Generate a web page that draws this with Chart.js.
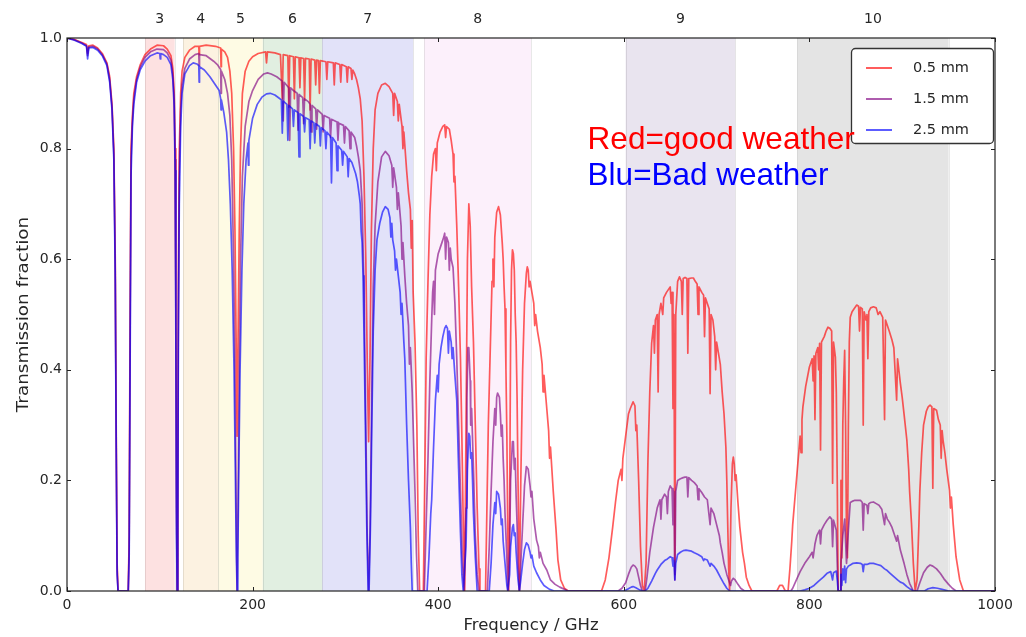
<!DOCTYPE html>
<html>
<head>
<meta charset="utf-8">
<script src="https://cdn.jsdelivr.net/npm/chart.js@4.4.1/dist/chart.umd.min.js"></script>
<style>
  html, body { margin: 0; padding: 0; background: #fff; }
  canvas { display: block; }
</style>
</head>
<body>
<canvas id="atmChart" width="1026" height="637"></canvas>
<script>
// ALMA receiver bands (GHz)
var bandNames = ['3', '4', '5', '6', '7', '8', '9', '10'];
var bandLow = [84, 125, 163, 211, 275, 385, 602, 787];
var bandHigh = [116, 163, 211, 275, 373, 500, 720, 950];
var bandFill = ['#fde1e1', '#fcf2e1', '#fefbe4', '#e1efe1', '#e2e2f9', '#fcf0fb', '#e9e4ef', '#e4e4e4'];

var seriesNames = ['0.5 mm', '1.5 mm', '2.5 mm'];

// transmission: [frequency GHz, transmission]
var trans05 = [[0,1.0],[8,0.997],[16,0.992],[21,0.988],[22.2,0.972],[23.5,0.986],[28,0.987],[33,0.982],[38,0.972],[43,0.955],[46,0.93],[48.5,0.88],[50.5,0.8],[52,0.6],[53,0.3],[54,0.05],[55,0],[66,0],[67,0.1],[68,0.5],[69,0.8],[70.5,0.86],[72,0.9],[75,0.93],[79,0.952],[84,0.97],[90,0.98],[97,0.987],[104,0.986],[108,0.98],[112,0.968],[114,0.945],[115.5,0.9],[116.5,0.8],[117.3,0.55],[118,0.2],[118.7,0],[119.4,0.2],[120,0.55],[121,0.8],[122.5,0.9],[124,0.94],[127,0.965],[132,0.978],[138,0.985],[142,0.985],[142.4,0.97],[142.8,0.985],[150,0.987],[160,0.985],[165.6,0.982],[166,0.948],[166.4,0.98],[170,0.975],[173,0.965],[175.5,0.94],[177.5,0.9],[179.5,0.8],[181,0.65],[182.3,0.45],[183.3,0.28],[184.3,0.45],[185.6,0.65],[187,0.8],[189,0.9],[192,0.94],[196,0.958],[200,0.966],[206,0.972],[214,0.975],[215,0.955],[216,0.975],[224,0.973],[230,0.97],[232,0.89],[233,0.97],[238,0.968],[239,0.875],[240,0.968],[244,0.966],[245,0.89],[246,0.966],[250,0.964],[251,0.91],[252,0.964],[255,0.963],[256,0.888],[257,0.963],[261,0.962],[262,0.87],[263,0.962],[267,0.96],[268,0.915],[269,0.96],[271,0.959],[272,0.9],[273,0.959],[279,0.957],[280,0.925],[281,0.957],[287,0.955],[288,0.915],[289,0.955],[294,0.952],[295,0.92],[296,0.952],[301,0.948],[302,0.92],[303,0.948],[306,0.945],[307,0.925],[308,0.942],[310,0.935],[312,0.925],[314,0.91],[316,0.89],[318,0.85],[320,0.75],[322,0.6],[323.5,0.42],[325,0.27],[326.5,0.42],[328,0.65],[330,0.8],[332,0.87],[335,0.9],[339,0.915],[343,0.918],[347,0.912],[351,0.9],[352,0.86],[353,0.9],[356,0.885],[357,0.85],[358,0.88],[361,0.84],[362,0.8],[363,0.83],[366,0.76],[368,0.72],[370,0.69],[371,0.62],[372,0.67],[373,0.54],[375,0.45],[377,0.3],[378.5,0.1],[380,0],[384,0],[385.5,0.2],[387,0.42],[389,0.56],[391,0.68],[393,0.75],[395,0.79],[397,0.8],[398,0.76],[399,0.81],[402,0.83],[405,0.84],[407,0.843],[408,0.82],[409,0.84],[412,0.835],[414,0.815],[416,0.79],[417,0.74],[418,0.75],[420,0.66],[422,0.55],[424,0.42],[425.5,0.28],[427,0.12],[428.5,0],[430,0.3],[431.5,0.6],[433,0.7],[434.5,0.66],[436,0.55],[437,0.5],[438,0.45],[440,0.3],[442,0.15],[444,0.04],[445,0],[451,0],[452.5,0.15],[454,0.3],[456,0.43],[458,0.56],[459,0.6],[460,0.55],[461,0.64],[463,0.685],[465,0.695],[467,0.68],[469,0.63],[470,0.6],[471,0.55],[472,0.51],[473,0.4],[474,0.28],[475,0.1],[476,0],[477,0.15],[478,0.45],[479,0.58],[480,0.617],[481,0.61],[482,0.58],[483,0.5],[484,0.45],[485,0.35],[486,0.2],[487.5,0],[489,0.2],[491,0.4],[493,0.52],[495,0.575],[496,0.586],[497,0.58],[498,0.55],[499,0.56],[501,0.54],[503,0.52],[504,0.48],[505,0.5],[507,0.47],[510,0.44],[512,0.41],[513,0.36],[514,0.39],[517,0.33],[519,0.29],[520,0.24],[521,0.26],[524,0.18],[527,0.11],[529,0.056],[532,0.02],[536,0.005],[540,0],[576,0],[580,0.02],[584,0.06],[588,0.115],[591,0.16],[594,0.2],[597,0.22],[598,0.2],[599,0.24],[602,0.28],[605,0.32],[607,0.33],[610,0.342],[612,0.335],[613,0.29],[614,0.3],[616,0.2],[618,0.08],[620,0.01],[622,0],[624,0.05],[626,0.236],[628,0.36],[630,0.448],[632,0.48],[633,0.43],[634,0.49],[636,0.5],[637,0.36],[638,0.5],[640,0.52],[642,0.5],[643,0.53],[646,0.54],[648,0.545],[650,0.55],[651,0.52],[652,0.54],[653,0.33],[654,0.5],[655,0.03],[656,0.5],[658,0.56],[660,0.568],[662,0.56],[663,0.5],[664,0.565],[666,0.567],[668,0.565],[669,0.43],[670,0.565],[673,0.566],[675,0.566],[677,0.56],[679,0.555],[680,0.5],[681,0.55],[684,0.54],[686,0.535],[687,0.46],[688,0.53],[690,0.52],[692,0.51],[693,0.357],[694,0.5],[696,0.49],[698,0.46],[699,0.4],[700,0.45],[702,0.43],[704,0.41],[706,0.36],[708,0.32],[710,0.26],[711,0.2],[712,0.12],[713,0.04],[714,0],[715.5,0.15],[717,0.23],[718,0.242],[719,0.23],[720,0.2],[721,0.21],[723,0.16],[725,0.116],[728,0.07],[730,0.05],[732,0.025],[735,0.01],[738,0],[765,0],[768,0.01],[771,0.01],[774,0],[777,0],[779,0.04],[781,0.09],[782,0.12],[785,0.18],[788,0.24],[790,0.28],[791,0.25],[792,0.31],[793,0.333],[796,0.37],[800,0.405],[803,0.42],[804,0.38],[805,0.425],[806,0.31],[807,0.43],[809,0.44],[810,0.4],[811,0.448],[812,0.255],[813,0.45],[816,0.46],[818,0.47],[820,0.477],[822,0.475],[824,0.47],[825,0.195],[826,0.45],[828,0.423],[829,0.36],[830,0.2],[831,0],[833,0],[834,0.2],[835,0.06],[836,0.3],[837,0.38],[838,0.435],[839,0.3],[840,0.1],[841,0.06],[842,0.3],[843,0.45],[844,0.495],[846,0.505],[848,0.51],[851,0.517],[853,0.515],[854,0.47],[855,0.513],[857,0.51],[858,0.3],[859,0.505],[861,0.49],[862,0.5],[863,0.42],[864,0.505],[866,0.512],[869,0.514],[872,0.512],[874,0.5],[876,0.505],[879,0.495],[881,0.31],[882,0.49],[884,0.48],[886,0.47],[889,0.454],[891,0.44],[894,0.345],[895,0.42],[898,0.376],[900,0.35],[902,0.32],[905,0.273],[907,0.22],[908,0.18],[910,0.123],[912,0.05],[914,0],[916,0.02],[918,0.12],[919,0.18],[921,0.25],[923,0.3],[926,0.325],[928,0.333],[930,0.336],[932,0.333],[933,0.186],[934,0.33],[937,0.327],[939,0.31],[941,0.3],[942,0.24],[943,0.29],[944,0.273],[946,0.25],[948,0.22],[951,0.182],[952,0.15],[953,0.17],[955,0.12],[958,0.062],[962,0.02],[966,0],[1000,0]];

var trans15 = [[0,1.0],[8,0.997],[16,0.991],[21,0.986],[22.2,0.968],[23.5,0.984],[28,0.985],[33,0.98],[38,0.97],[43,0.953],[46,0.925],[48.5,0.875],[50.5,0.79],[52,0.58],[53,0.28],[54,0.04],[55,0],[66,0],[67,0.08],[68,0.45],[69,0.78],[70.5,0.85],[72,0.89],[75,0.925],[79,0.948],[84,0.965],[90,0.975],[97,0.98],[104,0.979],[108,0.973],[112,0.96],[114,0.935],[115.5,0.89],[116.5,0.78],[117.3,0.5],[118,0.15],[118.7,0],[119.4,0.15],[120,0.5],[121,0.75],[122.5,0.87],[124,0.915],[127,0.945],[132,0.962],[138,0.97],[142,0.972],[142.4,0.95],[142.8,0.97],[150,0.968],[158,0.958],[162,0.952],[165.6,0.943],[166,0.9],[166.4,0.94],[170,0.925],[173,0.9],[175.5,0.86],[177.5,0.78],[179.5,0.6],[181,0.4],[182.3,0.15],[183.3,0],[184.3,0.15],[185.6,0.4],[187,0.6],[189,0.75],[192,0.84],[196,0.885],[200,0.905],[206,0.925],[212,0.935],[216,0.937],[220,0.935],[226,0.93],[232,0.922],[233,0.85],[234,0.92],[239,0.91],[240,0.815],[241,0.91],[244,0.905],[248,0.9],[249,0.833],[250,0.898],[254,0.892],[255,0.845],[256,0.89],[260,0.885],[262,0.88],[263,0.83],[264,0.878],[268,0.872],[269,0.835],[270,0.87],[275,0.862],[276,0.83],[277,0.86],[283,0.855],[284,0.82],[285,0.853],[291,0.848],[292,0.815],[293,0.846],[298,0.842],[299,0.81],[300,0.84],[304,0.832],[305,0.8],[306,0.83],[310,0.82],[312,0.805],[314,0.785],[316,0.76],[318,0.7],[320,0.55],[322,0.3],[323.5,0.1],[325,0],[326.5,0.1],[328,0.3],[330,0.55],[332,0.66],[335,0.74],[339,0.785],[343,0.795],[347,0.787],[350,0.77],[351,0.73],[352,0.765],[355,0.73],[356,0.69],[357,0.72],[360,0.66],[361,0.6],[362,0.63],[364,0.57],[366,0.52],[368,0.48],[369,0.41],[370,0.44],[372,0.36],[374,0.24],[375,0.18],[376.5,0.07],[378,0],[385,0],[387,0.12],[389,0.24],[391,0.38],[393,0.49],[394,0.54],[395,0.56],[396,0.5],[397,0.58],[400,0.61],[402,0.62],[404,0.63],[406,0.64],[407,0.647],[408,0.6],[409,0.64],[411,0.63],[412,0.58],[413,0.62],[414,0.6],[416,0.585],[418,0.52],[420,0.42],[422,0.3],[424,0.18],[426,0.06],[428,0],[430,0.15],[431,0.35],[432,0.44],[433,0.44],[434.5,0.38],[435,0.3],[436,0.33],[438,0.22],[440,0.1],[442,0.03],[444,0],[453,0],[455,0.08],[457,0.18],[459,0.27],[461,0.33],[462,0.3],[463,0.35],[464,0.358],[466,0.35],[467,0.32],[468,0.28],[469,0.3],[470,0.24],[471,0.2],[472,0.14],[474,0.06],[475,0],[477,0.08],[478,0.2],[480,0.27],[481,0.27],[482,0.22],[483,0.24],[484,0.17],[485,0.12],[486,0.05],[487.5,0],[489,0.05],[491,0.12],[493,0.19],[495,0.225],[497,0.22],[499,0.19],[500,0.17],[501,0.18],[503,0.13],[506,0.092],[508,0.08],[509,0.06],[510,0.07],[513,0.05],[517,0.038],[521,0.02],[526,0.012],[531,0.007],[540,0],[594,0],[598,0.005],[602,0.015],[605,0.03],[608,0.043],[610,0.047],[612,0.045],[614,0.04],[616,0.025],[618,0.01],[620,0],[623,0],[625,0.025],[628,0.07],[632,0.115],[636,0.15],[639,0.165],[640,0.13],[641,0.165],[644,0.175],[646,0.17],[647,0.14],[648,0.18],[650,0.19],[652,0.185],[653,0.12],[654,0.18],[655,0.02],[656,0.18],[658,0.2],[661,0.203],[664,0.205],[666,0.206],[668,0.206],[669,0.17],[670,0.205],[673,0.2],[676,0.196],[679,0.19],[680,0.165],[681,0.185],[684,0.178],[687,0.17],[690,0.165],[693,0.12],[694,0.15],[697,0.14],[700,0.12],[703,0.1],[704,0.087],[706,0.07],[708,0.05],[711,0.03],[713,0.02],[715,0.01],[716,0.018],[718,0.023],[720,0.02],[723,0.012],[726,0.005],[730,0],[780,0],[782,0.005],[786,0.02],[790,0.035],[795,0.05],[800,0.062],[803,0.07],[804,0.06],[806,0.085],[808,0.1],[811,0.11],[812,0.085],[813,0.11],[816,0.12],[819,0.128],[822,0.134],[824,0.13],[825,0.08],[826,0.128],[829,0.11],[830,0.05],[831,0],[833,0],[834,0.05],[836,0.1],[838,0.13],[840,0.05],[842,0.11],[844,0.16],[846,0.162],[849,0.164],[852,0.164],[855,0.164],[857,0.16],[858,0.11],[859,0.158],[862,0.155],[863,0.14],[864,0.158],[866,0.16],[869,0.161],[872,0.158],[875,0.155],[878,0.148],[881,0.12],[882,0.14],[884,0.13],[886,0.125],[889,0.115],[891,0.105],[894,0.09],[895,0.1],[898,0.074],[902,0.05],[905,0.03],[908,0.014],[912,0],[916,0],[919,0.015],[923,0.033],[927,0.043],[930,0.047],[933,0.045],[937,0.04],[941,0.032],[945,0.022],[950,0.012],[954,0.005],[958,0],[1000,0]];

var trans25 = [[0,1.0],[8,0.996],[16,0.99],[21,0.985],[22.2,0.962],[23.5,0.982],[28,0.983],[33,0.978],[38,0.968],[43,0.95],[46,0.92],[48.5,0.87],[50.5,0.78],[52,0.56],[53,0.26],[54,0.03],[55,0],[66,0],[67,0.06],[68,0.4],[69,0.75],[70.5,0.84],[72,0.88],[75,0.92],[79,0.943],[84,0.958],[90,0.968],[97,0.973],[100,0.972],[100.5,0.962],[101,0.972],[104,0.97],[108,0.965],[112,0.952],[114,0.925],[115.5,0.875],[116.5,0.76],[117.3,0.45],[118,0.1],[118.7,0],[119.4,0.1],[120,0.45],[121,0.7],[122.5,0.84],[124,0.9],[127,0.935],[132,0.95],[136,0.955],[140,0.953],[142,0.95],[142.4,0.92],[142.8,0.948],[148,0.942],[154,0.93],[160,0.915],[164,0.905],[165.6,0.89],[166,0.87],[166.4,0.888],[169,0.865],[172,0.83],[174,0.78],[176,0.7],[178,0.58],[180,0.4],[181.5,0.2],[182.5,0.06],[183.3,0],[184.1,0.06],[185,0.2],[186.5,0.4],[188.5,0.58],[190.5,0.7],[193,0.78],[195,0.81],[195.5,0.77],[196,0.815],[200,0.855],[205,0.88],[210,0.893],[215,0.899],[219,0.9],[224,0.897],[228,0.892],[231,0.888],[232,0.828],[233,0.886],[237,0.88],[238,0.815],[239,0.878],[243,0.872],[244,0.84],[245,0.87],[249,0.865],[250,0.785],[251,0.863],[255,0.858],[256,0.83],[257,0.856],[261,0.852],[262,0.8],[263,0.85],[266,0.847],[267,0.81],[268,0.845],[272,0.84],[273,0.805],[274,0.838],[278,0.832],[279,0.8],[280,0.83],[284,0.822],[285,0.738],[286,0.82],[290,0.81],[291,0.76],[292,0.805],[296,0.797],[297,0.77],[298,0.795],[302,0.785],[303,0.749],[304,0.782],[307,0.775],[309,0.765],[311,0.755],[313,0.74],[315,0.715],[316,0.7],[317,0.65],[318,0.63],[319,0.57],[320,0.47],[321.5,0.3],[323,0.12],[324.5,0],[325.5,0],[327,0.12],[328.5,0.3],[330,0.47],[332,0.58],[334,0.635],[337,0.665],[340,0.685],[343,0.695],[346,0.69],[348,0.675],[349,0.64],[350,0.665],[351,0.635],[353,0.615],[354,0.58],[355,0.6],[357,0.57],[359,0.54],[360,0.5],[361,0.52],[363,0.45],[364,0.42],[366,0.3],[368,0.2],[370,0.115],[371,0.05],[372,0],[388,0],[390,0.06],[392,0.14],[393,0.165],[395,0.26],[397,0.345],[399,0.39],[400,0.36],[401,0.41],[403,0.44],[405,0.46],[407,0.475],[408.5,0.48],[410,0.475],[411,0.43],[412,0.47],[414,0.45],[415,0.42],[416,0.44],[418,0.39],[420,0.345],[422,0.22],[424,0.105],[425.5,0.03],[427,0],[430,0.08],[431.5,0.22],[433,0.285],[434,0.28],[435,0.24],[436,0.25],[437,0.2],[438,0.14],[440,0.06],[442,0],[455,0],[457,0.05],[459,0.12],[461,0.16],[462,0.14],[463,0.18],[465,0.175],[467,0.15],[468,0.12],[469,0.13],[470,0.09],[472,0.05],[474,0.01],[475,0],[477,0.03],[478,0.08],[480,0.115],[481,0.12],[482,0.1],[483,0.105],[484,0.07],[486,0.02],[487.5,0],[489,0.02],[491,0.05],[493,0.075],[495,0.087],[497,0.083],[499,0.07],[500,0.06],[501,0.065],[503,0.045],[506,0.033],[510,0.02],[514,0.01],[520,0.003],[525,0],[600,0],[604,0.003],[608,0.007],[610,0.008],[613,0.006],[617,0.002],[620,0],[623,0],[626,0.005],[630,0.018],[634,0.032],[636,0.038],[640,0.048],[644,0.055],[647,0.058],[650,0.062],[652,0.06],[653,0.045],[654,0.055],[655,0.02],[656,0.05],[658,0.066],[661,0.07],[664,0.073],[667,0.074],[670,0.073],[673,0.072],[676,0.069],[680,0.066],[684,0.062],[686,0.055],[687,0.058],[690,0.056],[693,0.045],[694,0.05],[697,0.045],[700,0.038],[704,0.025],[708,0.013],[711,0.005],[714,0],[790,0],[795,0.002],[800,0.005],[805,0.01],[810,0.018],[815,0.025],[819,0.032],[823,0.035],[825,0.02],[826,0.033],[829,0.036],[830,0.02],[831,0],[833,0],[834,0.03],[835,0.01],[836,0.04],[837,0.02],[838,0.045],[839,0.015],[840,0.04],[842,0.045],[845,0.048],[847,0.05],[851,0.051],[855,0.05],[857,0.048],[858,0.035],[859,0.048],[862,0.048],[865,0.05],[869,0.05],[873,0.048],[877,0.046],[881,0.04],[883,0.038],[887,0.032],[891,0.026],[895,0.02],[898,0.016],[901,0.014],[905,0.008],[909,0.003],[912,0],[924,0],[928,0.004],[933,0.006],[938,0.005],[943,0.003],[950,0],[1000,0]];

var xTicks = [0, 200, 400, 600, 800, 1000];
var yTicks = [0, 0.2, 0.4, 0.6, 0.8, 1.0];

var lineColors = ['rgba(255,0,0,0.64)', 'rgba(128,0,128,0.64)', 'rgba(0,0,255,0.64)'];
var tickFont = '14px "DejaVu Sans"';
var textColor = '#262626';

function toPoints(arr) {
    return arr.map(function (p) { return {x: p[0], y: p[1]}; });
}

// shaded bands + band numbers, frame, inward ticks, legend and notes
var decorPlugin = {
    id: 'decor',
    beforeDatasetsDraw: function (chart) {
        var ctx = chart.ctx, a = chart.chartArea, xs = chart.scales.x;
        ctx.save();
        for (var i = 0; i < bandNames.length; i++) {
            var x0 = xs.getPixelForValue(bandLow[i]);
            var x1 = xs.getPixelForValue(bandHigh[i]);
            ctx.fillStyle = bandFill[i];
            ctx.fillRect(x0, a.top, x1 - x0, a.bottom - a.top);
            ctx.strokeStyle = 'rgba(0,0,0,0.09)';
            ctx.lineWidth = 1;
            ctx.beginPath();
            ctx.moveTo(Math.round(x0) + 0.5, a.top);
            ctx.lineTo(Math.round(x0) + 0.5, a.bottom);
            ctx.moveTo(Math.round(x1) + 0.5, a.top);
            ctx.lineTo(Math.round(x1) + 0.5, a.bottom);
            ctx.stroke();
        }
        ctx.restore();
    },
    afterDraw: function (chart) {
        var ctx = chart.ctx, a = chart.chartArea, xs = chart.scales.x, ys = chart.scales.y;
        ctx.save();

        // frame
        ctx.strokeStyle = '#222';
        ctx.lineWidth = 1.2;
        ctx.strokeRect(a.left, a.top, a.right - a.left, a.bottom - a.top);

        // inward ticks on all four sides
        ctx.lineWidth = 1;
        ctx.beginPath();
        xTicks.forEach(function (v) {
            var px = Math.round(xs.getPixelForValue(v)) + 0.5;
            ctx.moveTo(px, a.bottom); ctx.lineTo(px, a.bottom - 4);
            ctx.moveTo(px, a.top); ctx.lineTo(px, a.top + 4);
        });
        yTicks.forEach(function (v) {
            var py = Math.round(ys.getPixelForValue(v)) + 0.5;
            ctx.moveTo(a.left, py); ctx.lineTo(a.left + 4, py);
            ctx.moveTo(a.right, py); ctx.lineTo(a.right - 4, py);
        });
        ctx.stroke();

        // band numbers above the plot
        ctx.fillStyle = textColor;
        ctx.font = tickFont;
        ctx.textAlign = 'center';
        ctx.textBaseline = 'middle';
        for (var i = 0; i < bandNames.length; i++) {
            var xc = xs.getPixelForValue((bandLow[i] + bandHigh[i]) / 2);
            ctx.fillText(bandNames[i], xc, a.top - 19);
        }

        // axis titles
        ctx.font = '16.5px "DejaVu Sans"';
        ctx.fillText('Frequency / GHz', (a.left + a.right) / 2, 626);
        ctx.save();
        ctx.translate(24, (a.top + a.bottom) / 2);
        ctx.rotate(-Math.PI / 2);
        ctx.scale(1.15, 1);
        ctx.font = '16px "DejaVu Sans"';
        ctx.fillText('Transmission fraction', 0, 0);
        ctx.restore();

        // legend box
        var lx = a.right - 144, ly = a.top + 10, lw = 142, lh = 95;
        ctx.beginPath();
        ctx.roundRect(lx + 0.5, ly + 0.5, lw, lh, 4);
        ctx.fillStyle = '#fff';
        ctx.fill();
        ctx.strokeStyle = '#333';
        ctx.lineWidth = 1.3;
        ctx.stroke();
        ctx.font = '14.5px "DejaVu Sans"';
        ctx.textAlign = 'left';
        for (var j = 0; j < seriesNames.length; j++) {
            var ey = ly + 20 + j * 31;
            ctx.strokeStyle = lineColors[j];
            ctx.lineWidth = 2;
            ctx.beginPath();
            ctx.moveTo(lx + 15, ey);
            ctx.lineTo(lx + 41, ey);
            ctx.stroke();
            ctx.fillStyle = textColor;
            ctx.fillText(seriesNames[j], lx + 62, ey);
        }

        // weather notes
        ctx.font = '31.5px "Liberation Sans", Arial, sans-serif';
        ctx.textAlign = 'left';
        ctx.fillStyle = '#ff0000';
        ctx.fillText('Red=good weather', xs.getPixelForValue(561), ys.getPixelForValue(0.815));
        ctx.fillStyle = '#0000ff';
        ctx.fillText('Blu=Bad weather', xs.getPixelForValue(561), ys.getPixelForValue(0.75));

        ctx.restore();
    }
};

var datasets = [trans05, trans15, trans25].map(function (arr, i) {
    return {
        label: seriesNames[i],
        data: toPoints(arr),
        borderColor: lineColors[i],
        borderWidth: 1.7,
        borderJoinStyle: 'round',
        pointRadius: 0,
        tension: 0,
        fill: false,
        order: 3 - i
    };
});

new Chart(document.getElementById('atmChart'), {
    type: 'line',
    data: { datasets: datasets },
    options: {
        responsive: false,
        animation: false,
        layout: { padding: { left: 0, top: 38, right: 31, bottom: 0 } },
        plugins: {
            legend: { display: false },
            tooltip: { enabled: false }
        },
        scales: {
            x: {
                type: 'linear',
                min: 0,
                max: 1000,
                afterFit: function (s) { s.height = 46; },
                afterBuildTicks: function (s) { s.ticks = xTicks.map(function (v) { return {value: v}; }); },
                grid: { display: false, drawTicks: false },
                border: { display: false },
                ticks: {
                    padding: 6,
                    color: textColor,
                    font: { family: 'DejaVu Sans', size: 14 },
                    maxRotation: 0,
                    callback: function (v) { return String(v); }
                }
            },
            y: {
                min: 0,
                max: 1,
                afterFit: function (s) { s.width = 67; },
                afterBuildTicks: function (s) { s.ticks = yTicks.map(function (v) { return {value: v}; }); },
                grid: { display: false, drawTicks: false },
                border: { display: false },
                ticks: {
                    padding: 5,
                    color: textColor,
                    font: { family: 'DejaVu Sans', size: 14 },
                    callback: function (v) { return Number(v).toFixed(1); }
                }
            }
        }
    },
    plugins: [decorPlugin]
});
</script>
</body>
</html>
